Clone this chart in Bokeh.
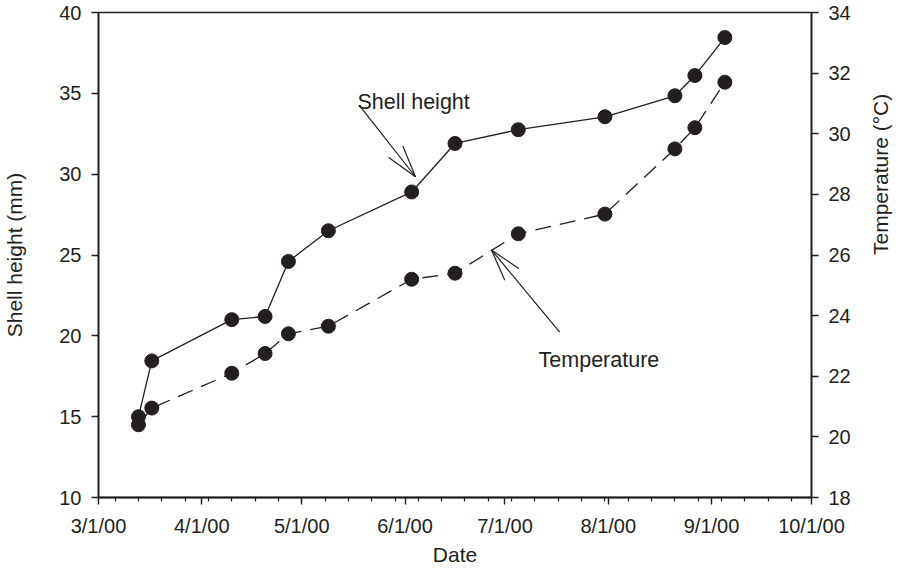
import math
import pandas as pd
from bokeh.plotting import figure
from bokeh.models import (Range1d, LinearAxis, FixedTicker, CustomJSTickFormatter,
                          Label, ColumnDataSource)
from bokeh.embed import file_html
from bokeh.resources import INLINE

# ---------------- data ----------------
sample_dates = ["2000-03-13", "2000-03-17", "2000-04-10", "2000-04-20", "2000-04-27",
                "2000-05-09", "2000-06-03", "2000-06-16", "2000-07-05", "2000-07-31",
                "2000-08-21", "2000-08-27", "2000-09-05"]
shell_height = [15.0, 18.45, 21.0, 21.2, 24.6, 26.5, 28.9, 31.9, 32.75, 33.55, 34.85, 36.1, 38.45]
temperature = [20.4, 20.95, 22.1, 22.75, 23.4, 23.65, 25.2, 25.4, 26.7, 27.35, 29.5, 30.2, 31.7]

month_ticks = ["2000-03-01", "2000-04-01", "2000-05-01", "2000-06-01", "2000-07-01",
               "2000-08-01", "2000-09-01", "2000-10-01"]
left_ticks = [10, 15, 20, 25, 30, 35, 40]
right_ticks = [18, 20, 22, 24, 26, 28, 30, 32, 34]

# annotation anchors: (date, value on the shell-height axis)
shell_label = ("2000-05-17 17:00", 34.46)
shell_tail = ("2000-05-18 07:00", 34.25)
shell_tip = ("2000-06-04 03:00", 29.84)
temp_label = ("2000-07-11 02:00", 18.51)
temp_tail = ("2000-07-17 10:00", 20.23)
temp_tip = ("2000-06-26 23:00", 25.31)

# ---------------- helpers ----------------
EPOCH = pd.Timestamp("1970-01-01")


def ms(d):
    return (pd.Timestamp(d) - EPOCH) / pd.Timedelta(milliseconds=1)


INK = "#231f20"
FONT = "Liberation Sans"
FW, FH = 713, 485

x0, x1 = ms(month_ticks[0]), ms(month_ticks[-1])
xs = [ms(d) for d in sample_dates]
minor = [ms(d) for d in pd.date_range("2000-03-06", "2000-09-30", freq="7D")]

p = figure(frame_width=FW, frame_height=FH, x_axis_type="datetime",
           x_range=Range1d(x0, x1), y_range=Range1d(left_ticks[0], left_ticks[-1]),
           output_backend="svg", toolbar_location=None,
           min_border_left=88, min_border_right=90, min_border_top=12, min_border_bottom=65)
p.extra_y_ranges = {"temp": Range1d(right_ticks[0], right_ticks[-1])}
p.xgrid.visible = False
p.ygrid.visible = False
p.outline_line_color = INK
p.outline_line_width = 1.3
p.background_fill_color = "white"
p.border_fill_color = "white"

right_axis = LinearAxis(y_range_name="temp", axis_label="Temperature (\u00b0C)")
p.add_layout(right_axis, "right")

p.xaxis.axis_label = "Date"
p.yaxis[0].axis_label = "Shell height (mm)"
p.xaxis.ticker = FixedTicker(ticks=[ms(d) for d in month_ticks], minor_ticks=minor)
p.xaxis.formatter = CustomJSTickFormatter(code="""
const d = new Date(tick);
return (d.getUTCMonth()+1) + '/' + d.getUTCDate() + '/' + String(d.getUTCFullYear()).slice(2);
""")
p.yaxis[0].ticker = FixedTicker(ticks=left_ticks)
right_axis.ticker = FixedTicker(ticks=right_ticks)

for ax in [p.xaxis[0], p.yaxis[0], right_axis]:
    ax.axis_line_color = INK
    ax.axis_line_width = 1.8
    ax.major_tick_line_color = INK
    ax.major_tick_line_width = 1.4
    ax.major_tick_in = 0
    ax.major_tick_out = 7
    ax.major_label_text_font = FONT
    ax.major_label_text_font_size = "20px"
    ax.major_label_text_color = INK
    ax.major_label_standoff = 10
    ax.axis_label_text_font = FONT
    ax.axis_label_text_font_size = "21px"
    ax.axis_label_text_font_style = "normal"
    ax.axis_label_text_color = INK
p.xaxis.minor_tick_line_color = INK
p.xaxis.minor_tick_line_width = 1.2
p.xaxis.minor_tick_in = 0
p.xaxis.minor_tick_out = 4
p.xaxis.axis_label_standoff = 3
p.yaxis[0].minor_tick_line_color = None
right_axis.minor_tick_line_color = None
p.yaxis[0].axis_label_standoff = 30
right_axis.axis_label_standoff = 27

try:
    right_axis.axis_label_orientation = math.pi / 2
except Exception:
    pass

src = ColumnDataSource(dict(x=xs, h=shell_height, t=temperature))
p.line("x", "h", source=src, line_color=INK, line_width=1.3)
p.scatter("x", "h", source=src, size=14, fill_color=INK, line_color=INK)
p.line("x", "t", source=src, y_range_name="temp", line_color=INK, line_width=1.3,
       line_dash="16 9")
p.scatter("x", "t", source=src, y_range_name="temp", size=14, fill_color=INK, line_color=INK)

# annotation arrows (open V heads)
px_per_ms = FW / (x1 - x0)
px_per_unit = FH / (left_ticks[-1] - left_ticks[0])


def arrow(tail, tip, head_len=33, half_angle=16):
    tx, ty = ms(tip[0]), tip[1]
    bx, by = ms(tail[0]), tail[1]
    ang = math.atan2((by - ty) * px_per_unit, (bx - tx) * px_per_ms)
    X0, Y0, X1, Y1 = [bx], [by], [tx], [ty]
    for s in (-1, 1):
        a = ang + s * math.radians(half_angle)
        X0.append(tx)
        Y0.append(ty)
        X1.append(tx + head_len * math.cos(a) / px_per_ms)
        Y1.append(ty + head_len * math.sin(a) / px_per_unit)
    p.segment(X0, Y0, X1, Y1, line_color=INK, line_width=1.2)


arrow(shell_tail, shell_tip)
arrow(temp_tail, temp_tip)

for (d, v), txt in [(shell_label, "Shell height"), (temp_label, "Temperature")]:
    p.add_layout(Label(x=ms(d), y=v, text=txt, text_font=FONT, text_font_size="21.5px",
                       text_color=INK, text_baseline="alphabetic", text_align="left"))

open("out.html", "w").write(file_html(p, INLINE))
